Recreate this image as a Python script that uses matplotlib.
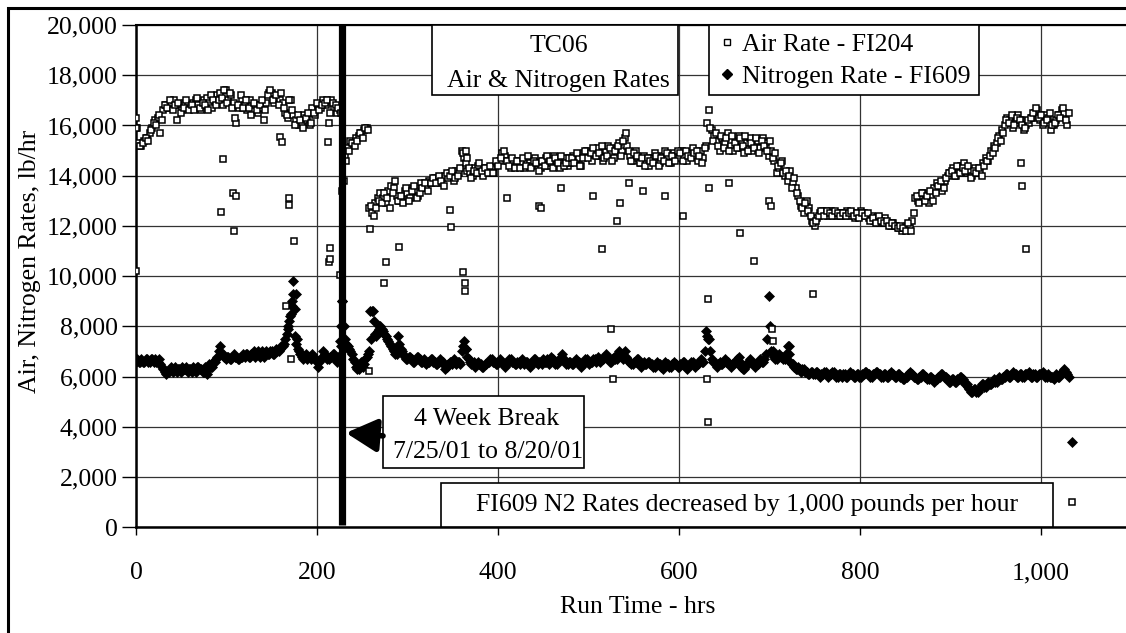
import matplotlib
matplotlib.use('Agg')
import matplotlib.pyplot as plt
from matplotlib.patches import Rectangle
from matplotlib.lines import Line2D
from matplotlib.ticker import FuncFormatter, MultipleLocator
import numpy as np

# ------------------------------------------------------------------ #
# TC06 air & nitrogen rates vs run time
# two readings every 3 hours (on the hour and half way), in hundreds lb/hr
# ------------------------------------------------------------------ #
LOG_STEP = 3      # hrs between logged points
BREAK_HR = 228    # 4 week break

air_main = [
    163, 153, 152, 154, 155, 157, 159, 162, 163, 157,
    166, 168, 167, 169, 170, 162, 168, 166, 169, 168,
    167, 169, 170, 168, 166, 170, 171, 169, 167, 170,
    172, 173, 168, 174, 170, 172, 169, 161, 167, 170,
    168, 166, 170, 166, 168, 165, 167, 162, 169, 173,
    173, 169, 171, 170, 169, 165, 163, 170, 164, 162,
    160, 161, 164, 162, 160, 167, 164, 168, 167, 170,
    168, 161, 170, 167, 165, 166, 134, 148, 151, 154,
    153, 155, 156, 157, 158, 159, 127, 125, 129, 131,
    133, 131, 129, 134, 136, 135, 132, 130, 131, 134,
    133, 131, 135, 134, 132, 137, 135, 136, 138, 137,
    139, 138, 137, 139, 140, 139, 141, 138, 142, 141,
    150, 147, 142, 141, 140, 143, 144, 141, 140, 143,
    142, 143, 141, 145, 146, 149, 148, 146, 143, 145,
    144, 146, 145, 143, 146, 145, 144, 147, 145, 143,
    146, 147, 144, 145, 148, 146, 143, 146, 147, 144,
    145, 148, 146, 147, 144, 149, 150, 148, 146, 150,
    151, 148, 146, 150, 152, 149, 147, 151, 153, 150,
    155, 152, 148, 146, 150, 147, 145, 148, 146, 144,
    147, 149, 146, 145, 148, 150, 147, 145, 149, 148,
    147, 150, 148, 146, 149, 151, 148, 146, 150, 147,
    152, 166, 158, 156, 154, 150, 155, 153, 157, 152,
    150, 154, 156, 151, 149, 153, 155, 150, 152, 154,
    151, 155, 153, 148, 150, 146, 141, 143, 146, 140,
    138, 142, 137, 135, 132, 128, 125, 130, 127, 122,
    120, 123, 125, 126, 125, 124, 126, 125, 124, 125,
    124, 125, 126, 124, 125, 123, 124, 126, 125, 124,
    123, 124, 122, 123, 121, 122, 123, 121, 120, 121,
    120, 119, 118, 119, 120, 119, 122, 131, 130, 132,
    133, 131, 129, 132, 135, 137, 136, 134, 138, 140,
    141, 143, 140, 142, 144, 145, 141, 142, 140, 143,
    141, 142, 145, 147, 146, 150, 152, 153, 156, 158,
    160, 163, 162, 159, 161, 164, 162, 158, 160, 161,
    163, 165, 166, 162, 160, 164, 163, 158, 160, 162,
    164, 166, 165, 160,
]

air_half = [
    159, 152, 153, 155, 154, 158, 161, 160, 164, 162,
    168, 167, 170, 166, 168, 169, 165, 167, 170, 166,
    168, 166, 171, 167, 169, 168, 166, 172, 170, 168,
    170, 171, 174, 169, 173, 167, 163, 168, 172, 167,
    170, 167, 164, 169, 166, 168, 170, 166, 172, 174,
    170, 172, 168, 173, 167, 164, 170, 166, 160, 164,
    162, 159, 163, 165, 161, 165, 169, 166, 168, 169,
    170, 165, 169, 168, 167, 165, 138, 146, 150, 153,
    152, 154, 157, 155, 159, 158, 128, 124, 127, 130,
    129, 133, 131, 127, 133, 138, 130, 132, 129, 135,
    130, 134, 136, 131, 133, 135, 137, 134, 137, 139,
    137, 140, 138, 136, 141, 140, 142, 139, 140, 143,
    149, 145, 143, 139, 142, 141, 145, 142, 143, 141,
    144, 141, 146, 144, 147, 150, 146, 144, 147, 143,
    146, 143, 147, 144, 148, 143, 146, 145, 142, 146,
    144, 148, 146, 143, 147, 145, 148, 144, 145, 147,
    147, 145, 149, 144, 147, 150, 147, 149, 151, 148,
    149, 152, 147, 148, 151, 146, 150, 152, 148, 154,
    157, 150, 146, 149, 148, 145, 147, 144, 147, 146,
    145, 148, 144, 147, 146, 149, 145, 148, 146, 150,
    149, 146, 150, 148, 147, 149, 150, 148, 145, 151,
    161, 159, 154, 157, 152, 156, 151, 155, 150, 156,
    153, 151, 155, 152, 156, 150, 153, 151, 155, 149,
    154, 152, 150, 154, 147, 149, 144, 145, 141, 142,
    140, 135, 139, 133, 130, 127, 129, 126, 124, 121,
    122, 124, 126, 124, 126, 125, 124, 126, 125, 124,
    125, 124, 125, 126, 124, 125, 123, 125, 124, 125,
    122, 123, 121, 124, 122, 121, 122, 120, 121, 120,
    119, 120, 119, 118, 121, 118, 125, 132, 129, 133,
    130, 132, 134, 130, 133, 136, 138, 135, 139, 141,
    142, 140, 144, 141, 143, 142, 144, 139, 142, 141,
    143, 140, 144, 146, 148, 149, 151, 155, 154, 157,
    162, 161, 164, 160, 163, 162, 160, 159, 162, 163,
    165, 167, 163, 164, 161, 162, 165, 160, 161, 164,
    163, 167, 162, 165,
]

n2_main = [
    66, 66, 67, 66, 67, 66, 67, 67, 66, 65,
    63, 61, 62, 64, 63, 62, 63, 64, 63, 62,
    63, 64, 62, 64, 63, 62, 61, 65, 64, 66,
    68, 72, 69, 67, 68, 67, 69, 68, 67, 68,
    68, 69, 68, 69, 68, 70, 69, 68, 70, 69,
    70, 69, 70, 71, 72, 75, 79, 85, 93, 73,
    70, 68, 68, 67, 68, 69, 67, 64, 67, 70,
    68, 67, 68, 69, 66, 68, 90, 75, 72, 70,
    67, 64, 63, 66, 65, 68, 70, 86, 77, 78,
    80, 78, 76, 74, 72, 70, 69, 73, 70, 68,
    67, 68, 66, 67, 68, 66, 67, 65, 66, 67,
    66, 65, 67, 66, 63, 65, 66, 67, 65, 66,
    70, 74, 68, 66, 65, 64, 66, 65, 64, 65,
    66, 67, 66, 65, 67, 66, 64, 66, 67, 66,
    65, 66, 67, 65, 66, 64, 66, 67, 65, 66,
    67, 66, 65, 68, 66, 65, 67, 69, 66, 65,
    66, 65, 67, 66, 64, 66, 67, 65, 66, 67,
    68, 66, 67, 69, 67, 66, 68, 67, 70, 68,
    70, 67, 66, 65, 66, 67, 64, 66, 65, 66,
    65, 64, 66, 65, 63, 66, 65, 64, 66, 65,
    64, 65, 66, 63, 65, 66, 64, 65, 67, 66,
    78, 75, 67, 66, 64, 66, 65, 67, 66, 64,
    65, 66, 68, 64, 63, 65, 67, 66, 64, 65,
    67, 66, 69, 92, 70, 68, 67, 69, 68, 67,
    72, 66, 65, 63, 64, 62, 63, 62, 61, 62,
    61, 62, 60, 61, 62, 60, 61, 62, 60, 61,
    60, 61, 60, 62, 61, 60, 61, 60, 61, 62,
    61, 60, 61, 62, 61, 60, 61, 60, 62, 61,
    60, 61, 60, 59, 60, 62, 61, 60, 59, 60,
    61, 60, 59, 60, 58, 59, 60, 61, 60, 59,
    58, 59, 58, 59, 60, 58, 57, 55, 54, 55,
    54, 56, 57, 56, 58, 57, 59, 58, 60, 59,
    60, 61, 60, 62, 61, 60, 61, 60, 61, 62,
    60, 61, 60, 61, 62, 60, 61, 60, 59, 61,
    60, 62, 63, 61,
]

n2_half = [
    67, 66, 66, 67, 66, 67, 66, 66, 67, 64,
    62, 62, 63, 62, 64, 63, 62, 63, 64, 63,
    62, 63, 64, 63, 62, 64, 63, 64, 66, 67,
    70, 69, 68, 68, 67, 68, 68, 67, 68, 69,
    69, 68, 69, 70, 69, 68, 70, 69, 69, 70,
    69, 71, 70, 72, 73, 77, 82, 88, 76, 71,
    69, 67, 69, 68, 67, 68, 66, 66, 68, 69,
    67, 68, 69, 67, 68, 72, 80, 73, 71, 69,
    66, 63, 65, 64, 67, 69, 75, 82, 76, 79,
    79, 77, 75, 73, 71, 69, 71, 71, 69, 67,
    68, 67, 66, 68, 67, 66, 66, 66, 67, 66,
    65, 66, 66, 65, 64, 66, 65, 66, 66, 65,
    72, 71, 67, 65, 66, 65, 65, 64, 65, 66,
    67, 66, 65, 66, 66, 65, 65, 67, 66, 65,
    66, 65, 66, 66, 65, 65, 67, 66, 66, 65,
    66, 67, 66, 67, 65, 66, 68, 67, 65, 66,
    65, 66, 66, 65, 65, 67, 66, 66, 67, 66,
    67, 67, 68, 68, 66, 67, 67, 69, 69, 67,
    68, 66, 65, 66, 67, 65, 65, 65, 66, 65,
    64, 65, 65, 64, 65, 65, 64, 65, 65, 64,
    65, 66, 64, 64, 66, 65, 65, 66, 66, 70,
    76, 70, 66, 65, 65, 65, 66, 66, 65, 65,
    66, 67, 66, 63, 64, 66, 66, 65, 65, 66,
    66, 67, 75, 80, 69, 67, 68, 68, 67, 69,
    69, 65, 64, 63, 63, 63, 62, 61, 62, 61,
    62, 61, 61, 62, 61, 61, 62, 61, 60, 61,
    61, 60, 61, 61, 60, 61, 60, 61, 62, 61,
    60, 61, 62, 61, 60, 61, 60, 61, 61, 60,
    61, 60, 59, 60, 61, 61, 60, 59, 60, 61,
    60, 59, 60, 59, 59, 60, 61, 60, 60, 58,
    59, 58, 59, 60, 59, 57, 56, 54, 55, 54,
    55, 57, 56, 57, 57, 58, 58, 59, 59, 60,
    61, 60, 61, 61, 60, 61, 60, 61, 61, 60,
    61, 60, 61, 61, 61, 60, 60, 60, 60, 60,
    61, 62, 62, 60,
]

# odd readings off the main trend (hrs, lb/hr)
air_odd_t = [0, 0, 94, 96, 107, 108, 110, 159, 161, 166, 169, 169, 171, 175,
             212, 213, 214, 214, 225, 258, 259, 274, 276, 291, 347, 348, 361,
             364, 364, 365, 366, 410, 445, 447, 470, 505, 515, 525, 527, 532,
             535, 545, 560, 585, 604, 631, 632, 632, 633, 655, 668, 683, 700,
             702, 703, 704, 748, 978, 979, 983, 1034]
air_odd_v = [10200, 15900, 12570, 14660, 13300, 11810, 13200, 15550, 15350,
             8810, 12830, 13100, 6700, 11400, 15340, 10580, 10700, 11130,
             10050, 6240, 11880, 9720, 10580, 11170, 12640, 11970, 10180, 9730,
             9400, 15000, 14700, 13100, 12800, 12700, 13500, 13200, 11100,
             7900, 5900, 12200, 12900, 13700, 13400, 13200, 12400, 5900, 9100,
             4200, 13500, 13700, 11700, 10600, 13000, 12800, 7900, 7400, 9300,
             14500, 13600, 11100, 1020]

n2_odd_t = [168, 170, 172, 174, 176, 177, 178, 225, 227, 228, 259, 262, 268,
            289, 365, 632, 704, 722, 1034]
n2_odd_v = [8000, 8400, 9000, 9800, 8700, 9300, 7500, 7400, 8000, 9000, 8600,
            8600, 8000, 7600, 7100, 7500, 7000, 7200, 3400]

hrs_main = np.arange(len(air_main)) * LOG_STEP
hrs_half = hrs_main + LOG_STEP / 2
air_t = np.concatenate([hrs_main, hrs_half, air_odd_t])
air_v = np.concatenate([np.array(air_main) * 100, np.array(air_half) * 100, air_odd_v])
n2_t = np.concatenate([hrs_main, hrs_half, n2_odd_t])
n2_v = np.concatenate([np.array(n2_main) * 100, np.array(n2_half) * 100, n2_odd_v])

plt.rcParams['font.family'] = ['Liberation Serif', 'DejaVu Serif']
plt.rcParams['font.size'] = 18.5

fig = plt.figure(figsize=(11.26, 6.33), dpi=100)
ax = fig.add_axes([136 / 1126, 105.7 / 633, 990 / 1126, 502.3 / 633])
ax.set_xlim(0, 1094)
ax.set_ylim(0, 20000)

ax.plot(n2_t, n2_v, ls='none', marker='D', ms=5.2, mfc='black', mec='black',
        mew=0.5, zorder=3)
ax.plot(air_t, air_v, ls='none', marker='s', ms=5.0, mfc='white', mec='black',
        mew=1.1, zorder=3.5)

# 4 week break line
ax.plot([BREAK_HR, BREAK_HR], [90, 20000], color='black', lw=5.2,
        solid_capstyle='butt', zorder=4, clip_on=False)

ax.grid(True, color='#333333', lw=0.9)
ax.set_axisbelow(True)
ax.xaxis.set_major_locator(MultipleLocator(200))
ax.yaxis.set_major_locator(MultipleLocator(2000))
fmt = FuncFormatter(lambda v, p: '{:,}'.format(int(v)))
ax.xaxis.set_major_formatter(fmt)
ax.yaxis.set_major_formatter(fmt)
ax.tick_params(axis='y', direction='out', length=10, width=1, pad=3)
ax.tick_params(axis='x', direction='out', length=6, width=1, pad=19)
for s in ['left', 'bottom']:
    ax.spines[s].set_linewidth(1.8)
ax.spines['top'].set_linewidth(1.5)
ax.spines['right'].set_visible(False)

ax.set_xlabel('Run Time - hrs', va='center')
ax.xaxis.set_label_coords(0.507, -0.159)
ax.set_ylabel('Air, Nitrogen Rates, lb/hr', va='center')
ax.yaxis.set_label_coords(-0.107, 0.53)

# text boxes
def box(x0, x1, y0, y1):
    ax.add_patch(Rectangle((x0, y0), x1 - x0, y1 - y0, facecolor='white',
                           edgecolor='black', lw=1.2, zorder=5, clip_on=False))

box(327, 599, 17210, 20000)
ax.text(467, 19160, 'TC06', ha='center', va='center', zorder=6)
ax.text(467, 17770, 'Air & Nitrogen Rates', ha='center', va='center', zorder=6)

box(273, 495, 2350, 5220)
ax.text(387, 4310, '4 Week Break', ha='center', va='center', zorder=6)
ax.text(389, 3000, '7/25/01 to 8/20/01', ha='center', va='center', zorder=6)
ax.annotate('', xy=(232, 3760), xytext=(273, 3640),
            arrowprops=dict(arrowstyle='-|>,head_length=0.75,head_width=0.4',
                            lw=4, color='black', mutation_scale=25,
                            shrinkA=0, shrinkB=0), zorder=6)

box(337, 1013, 0, 1760)
ax.text(675, 890, 'FI609 N2 Rates decreased by 1,000 pounds per hour',
        ha='center', va='center', zorder=6)

handles = [Line2D([], [], ls='none', marker='s', ms=4.3, mfc='white',
                  mec='black', mew=1.0),
           Line2D([], [], ls='none', marker='D', ms=4.8, mfc='black',
                  mec='black')]
leg = ax.legend(handles, ['Air Rate - FI204', 'Nitrogen Rate - FI609'],
                loc='upper left', bbox_to_anchor=(0.5788, 1.0),
                borderaxespad=0, fancybox=False, framealpha=1,
                edgecolor='black', borderpad=0.3, labelspacing=0.35,
                handlelength=0.8, handletextpad=0.2)
leg.get_frame().set_linewidth(1.2)
leg.set_zorder(7)

# outer chart border
fig.patches.append(Rectangle((8 / 1126, -0.1), 1.2, 625 / 633 + 0.1,
                             transform=fig.transFigure, fill=False, lw=2.2,
                             edgecolor='black'))

fig.savefig('out.png', dpi=100)
